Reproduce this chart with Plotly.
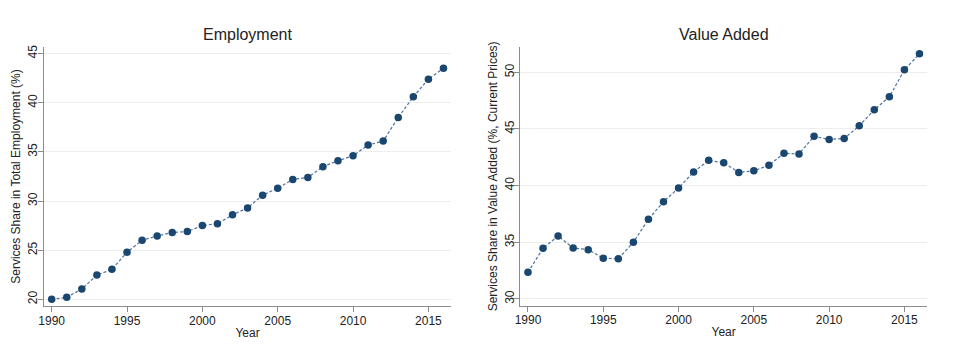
import plotly.graph_objects as go

years = list(range(1990, 2017))
employment = [20.0, 20.2, 21.05, 22.47, 23.05, 24.8, 26.0, 26.45, 26.8, 26.9,
              27.5, 27.7, 28.6, 29.3, 30.6, 31.3, 32.2, 32.4, 33.5, 34.1,
              34.6, 35.7, 36.1, 38.5, 40.6, 42.4, 43.5]
value_added = [32.35, 34.47, 35.56, 34.5, 34.35, 33.6, 33.55, 35.0, 37.03, 38.58,
               39.79, 41.2, 42.23, 42.02, 41.17, 41.31, 41.8, 42.85, 42.8, 44.35,
               44.08, 44.17, 45.28, 46.7, 47.84, 50.22, 51.63]
x_ticks = [1990, 1995, 2000, 2005, 2010, 2015]
emp_ticks = [20, 25, 30, 35, 40, 45]
va_ticks = [30, 35, 40, 45, 50]

LINE = "#4d73a0"
MARK = "#1a476f"
FONT = "Liberation Sans, Arial, Helvetica, sans-serif"

fig = go.Figure()
for ys, xa, ya in [(employment, "x", "y"), (value_added, "x2", "y2")]:
    fig.add_trace(go.Scatter(
        x=years, y=ys, xaxis=xa, yaxis=ya, mode="lines+markers",
        line=dict(color=LINE, width=1.2, dash="3px,2px"),
        marker=dict(color=MARK, size=7.5),
        showlegend=False, hoverinfo="x+y"))

axis_common = dict(showline=True, linecolor="#8c8c8c", linewidth=1,
                   ticks="outside", ticklen=5, tickcolor="#8c8c8c",
                   tickfont=dict(size=12, color="#222"), zeroline=False,
                   automargin=False)
xcommon = dict(axis_common, ticklabelstandoff=-2)
ycommon = dict(axis_common, ticklabelstandoff=-4)

fig.update_layout(
    template="none",
    width=958, height=361, margin=dict(l=0, r=0, t=0, b=0),
    paper_bgcolor="white", plot_bgcolor="white",
    font=dict(family=FONT, color="#222"),
    xaxis=dict(domain=[44/958, 451/958], range=[1989.49, 2016.5], anchor="y",
               tickvals=x_ticks, showgrid=False,
               title=dict(text="Year", font=dict(size=12), standoff=1), **xcommon),
    yaxis=dict(domain=[0.1515, 0.8706], range=[19.29, 45.7], anchor="x",
               tickvals=emp_ticks, tickangle=-90, showgrid=True, gridcolor="#ededed",
               title=dict(text="Services Share in Total Employment (%)",
                          font=dict(size=12), standoff=2), **ycommon),
    xaxis2=dict(domain=[520.3/958, 927/958], range=[1989.49, 2016.5], anchor="y2",
                tickvals=x_ticks, showgrid=False,
                title=dict(text="Year", font=dict(size=12), standoff=1), **xcommon),
    yaxis2=dict(domain=[0.1524, 0.8706], range=[29.38, 52.26], anchor="x2",
                tickvals=va_ticks, tickangle=-90, showgrid=True, gridcolor="#ededed",
                title=dict(text="Services Share in Value Added (%, Current Prices)",
                           font=dict(size=12), standoff=2), **ycommon),
    annotations=[
        dict(text="Employment", x=(44+451)/2/958, y=(361-35)/361, xref="paper", yref="paper",
             showarrow=False, font=dict(size=16, color="#222"), xanchor="center", yanchor="middle"),
        dict(text="Value Added", x=(520.3+927)/2/958, y=(361-35)/361, xref="paper", yref="paper",
             showarrow=False, font=dict(size=16, color="#222"), xanchor="center", yanchor="middle"),
    ],
)

fig.write_html("out.html", config={"displayModeBar": False},
               post_script="document.body.style.margin='0';")
